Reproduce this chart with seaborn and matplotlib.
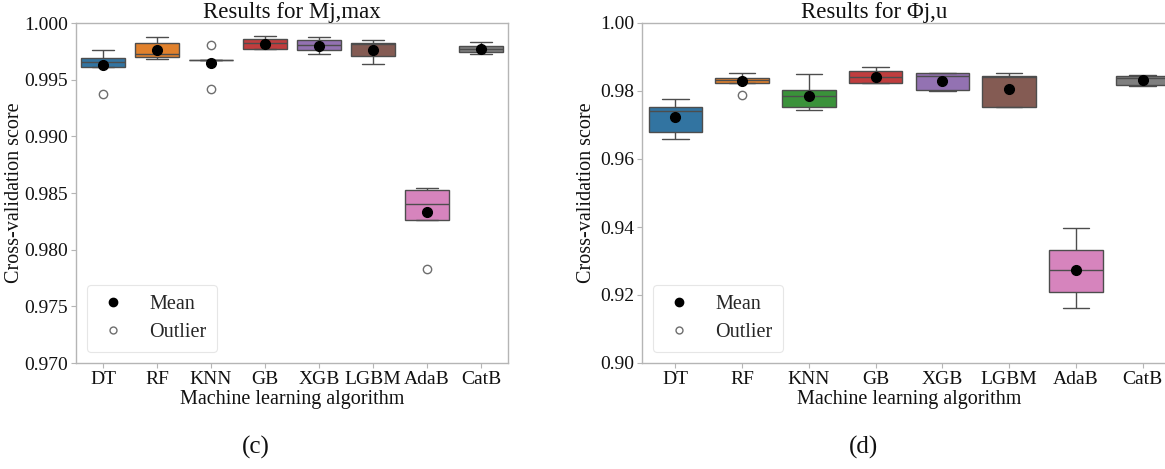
import numpy as np
import pandas as pd
import matplotlib
matplotlib.use("Agg")
import matplotlib.pyplot as plt
from matplotlib.lines import Line2D
from matplotlib.ticker import FormatStrFormatter, MultipleLocator
import seaborn as sns

# ---------------- data (cross-validation fold scores) ----------------
algorithms = ["DT", "RF", "KNN", "GB", "XGB", "LGBM", "AdaB", "CatB"]

# (c) Results for Mj,max
mj_DT = [0.99374, 0.99615, 0.99615, 0.99618, 0.99659, 0.99660, 0.99691, 0.99695, 0.99759]
mj_RF = [0.99682, 0.99690, 0.99700, 0.99715, 0.99729, 0.99800, 0.99824, 0.99842, 0.99876]
mj_KNN = [0.99415, 0.99676, 0.99676, 0.99676, 0.99803]
mj_GB = [0.99771, 0.99774, 0.99774, 0.99793, 0.99824, 0.99826, 0.99856, 0.99856, 0.99888]
mj_XGB = [0.99726, 0.99740, 0.99759, 0.99780, 0.99803, 0.99810, 0.99853, 0.99855, 0.99874]
mj_LGBM = [0.99641, 0.99680, 0.99709, 0.99716, 0.99818, 0.99820, 0.99823, 0.99825, 0.99853]
mj_AdaB = [0.97829, 0.98262, 0.98262, 0.98262, 0.98406, 0.98406, 0.98526, 0.98526, 0.98544]
mj_CatB = [0.99729, 0.99735, 0.99744, 0.99755, 0.99771, 0.99790, 0.99800, 0.99810, 0.99832]

# (d) Results for Φj,u
phi_DT = [0.96595, 0.96700, 0.96800, 0.97214, 0.97407, 0.97420, 0.97534, 0.97550, 0.97769]
phi_RF = [0.97877, 0.98229, 0.98229, 0.98229, 0.98317, 0.98317, 0.98395, 0.98395, 0.98532]
phi_KNN = [0.97436, 0.97480, 0.97515, 0.97650, 0.97847, 0.97900, 0.98043, 0.98419, 0.98513]
phi_GB = [0.98239, 0.98239, 0.98239, 0.98300, 0.98405, 0.98410, 0.98591, 0.98604, 0.98708]
phi_XGB = [0.97994, 0.98010, 0.98023, 0.98136, 0.98434, 0.98480, 0.98532, 0.98532, 0.98532]
phi_LGBM = [0.97515, 0.97515, 0.97515, 0.97802, 0.98405, 0.98420, 0.98454, 0.98480, 0.98542]
phi_AdaB = [0.91605, 0.91800, 0.92094, 0.92400, 0.92740, 0.93000, 0.93337, 0.93721, 0.93963]
phi_CatB = [0.98160, 0.98169, 0.98180, 0.98180, 0.98376, 0.98400, 0.98454, 0.98460, 0.98474]

mj_scores = [mj_DT, mj_RF, mj_KNN, mj_GB, mj_XGB, mj_LGBM, mj_AdaB, mj_CatB]
phi_scores = [phi_DT, phi_RF, phi_KNN, phi_GB, phi_XGB, phi_LGBM, phi_AdaB, phi_CatB]

titles = ["Results for Mj,max", "Results for \u03a6j,u"]
subcaptions = ["(c)", "(d)"]
xlabel = "Machine learning algorithm"
ylabel = "Cross-validation score"
legend_labels = ["Mean", "Outlier"]


def to_long(scores):
    rows = []
    for alg, vals in zip(algorithms, scores):
        for v in vals:
            rows.append({"algorithm": alg, "score": v})
    return pd.DataFrame(rows)


# ---------------- style ----------------
sns.set_theme(style="ticks")
plt.rcParams["font.family"] = ["Liberation Serif", "DejaVu Serif"]
FS = 14.5
TICK_FS = 14
EDGE = "#b5b5b5"
TXT = "#111111"

fig = plt.figure(figsize=(11.65, 4.69), dpi=100)
W, H = 1165.0, 469.0
ax_left = fig.add_axes([76 / W, (H - 363) / H, 432 / W, 340 / H])
ax_right = fig.add_axes([642 / W, (H - 363) / H, 534 / W, 340 / H])

panels = [
    (ax_left, mj_scores, (0.970, 1.000), 0.005, "%.3f", -0.12, 0.5),
    (ax_right, phi_scores, (0.90, 1.00), 0.02, "%.2f", -0.086, 0.434),
]

for i, (ax, scores, ylim, step, fmt, ylab_x, title_x) in enumerate(panels):
    df = to_long(scores)
    sns.boxplot(
        data=df, x="algorithm", y="score", hue="algorithm",
        order=algorithms, hue_order=algorithms, palette="tab10",
        legend=False, width=0.8, linewidth=1.0, linecolor="#4d4d4d",
        showmeans=True,
        meanprops=dict(marker="o", markerfacecolor="black", markeredgecolor="black", markersize=7),
        flierprops=dict(marker="o", markerfacecolor="white", markeredgecolor="#6e6e6e",
                        markersize=6, markeredgewidth=1.0),
        ax=ax,
    )
    ax.set_ylim(*ylim)
    ax.yaxis.set_major_locator(MultipleLocator(step))
    ax.yaxis.set_major_formatter(FormatStrFormatter(fmt))
    ax.set_title(titles[i], fontsize=16.5, pad=1, color=TXT, x=title_x)
    ax.set_xlabel(xlabel, fontsize=FS, color=TXT)
    ax.set_ylabel(ylabel, fontsize=FS, color=TXT)
    ax.yaxis.set_label_coords(ylab_x, 0.5)
    ax.xaxis.set_label_coords(0.5, -0.078)
    ax.tick_params(axis="both", labelsize=TICK_FS, colors=TXT, length=3.5, width=0.8,
                   color=EDGE, pad=2)
    for sp in ax.spines.values():
        sp.set_visible(True)
        sp.set_color(EDGE)
        sp.set_linewidth(1.0)

    handles = [
        Line2D([], [], linestyle="none", marker="o", markersize=6,
               markerfacecolor="black", markeredgecolor="black"),
        Line2D([], [], linestyle="none", marker="o", markersize=5,
               markerfacecolor="white", markeredgecolor="#6e6e6e"),
    ]
    leg = ax.legend(handles, legend_labels, loc="lower left", fontsize=FS,
                    frameon=True, fancybox=True, borderpad=0.5, labelspacing=0.45,
                    handlelength=1.6, handletextpad=1.0, borderaxespad=0.55)
    leg.get_frame().set_edgecolor("#e0e0e0")
    leg.get_frame().set_linewidth(0.8)

fig.text(256 / W, 1 - 447 / H, subcaptions[0], ha="center", va="center", fontsize=18, color=TXT)
fig.text(863 / W, 1 - 447 / H, subcaptions[1], ha="center", va="center", fontsize=18, color=TXT)

fig.savefig("out.png", dpi=100, facecolor="white")
